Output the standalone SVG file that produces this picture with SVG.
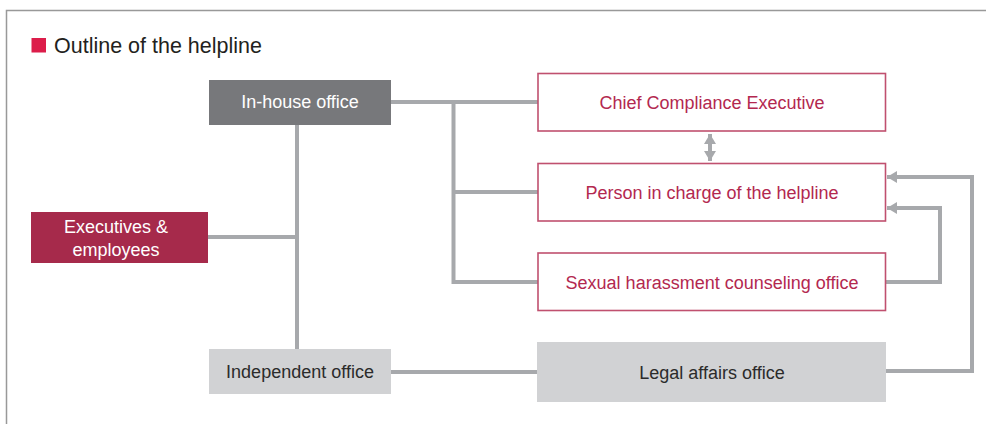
<svg xmlns="http://www.w3.org/2000/svg" width="986" height="424" viewBox="0 0 986 424">
<defs>
<style>
.t{font-family:"Liberation Sans",Arial,sans-serif;font-size:18px;text-anchor:middle;dominant-baseline:central}
.w{fill:#ffffff}
.r{fill:#b3284f}
.d{fill:#2b2b2b}
.ln{fill:none;stroke:#a7a9ac;stroke-width:4}
.ob{fill:#ffffff;stroke:#c0506f;stroke-width:1.6}
</style>
<marker id="ah" viewBox="0 0 10 12" refX="10" refY="6" markerWidth="10" markerHeight="12" markerUnits="userSpaceOnUse" orient="auto-start-reverse">
<path d="M0,0 L10,6 L0,12 Z" fill="#a7a9ac"/>
</marker>
</defs>
<rect width="986" height="424" fill="#ffffff"/>
<path d="M6.5,424 V10.5 H986" fill="none" stroke="#999999" stroke-width="1.5"/>
<g id="title">
<rect x="31.5" y="38" width="14.5" height="14.5" fill="#dc1d4a"/>
<text x="54" y="46" font-family="'Liberation Sans',Arial,sans-serif" font-size="21.5" fill="#231f20" dominant-baseline="central">Outline of the helpline</text>
</g>
<g id="connectors">
<path class="ln" d="M297,125 V349"/>
<path class="ln" d="M208,237 H297"/>
<path class="ln" d="M391,102 H538"/>
<path class="ln" d="M453.5,102 V282 H538"/>
<path class="ln" d="M453.5,192 H538"/>
<path class="ln" d="M391,372 H538"/>
<path class="ln" d="M886,282 H940 V208 H887" marker-end="url(#ah)"/>
<path class="ln" d="M886,371 H972 V177 H887" marker-end="url(#ah)"/>
<path class="ln" d="M710,134 V161" stroke-width="5" marker-start="url(#ah)" marker-end="url(#ah)"/>
</g>
<g id="inhouse">
<rect x="209" y="80" width="182" height="45" fill="#77787b"/>
<text class="t w" x="300" y="102">In-house office</text>
</g>
<g id="executives">
<rect x="31" y="212" width="177" height="51" fill="#a62a4b"/>
<text class="t w" x="116" y="227">Executives &amp;</text>
<text class="t w" x="116" y="250">employees</text>
</g>
<g id="independent">
<rect x="209" y="349" width="182" height="45" fill="#d1d2d4"/>
<text class="t d" x="300" y="372">Independent office</text>
</g>
<g id="chief">
<rect class="ob" x="538" y="73.5" width="347.5" height="57.5"/>
<text class="t r" x="712" y="103">Chief Compliance Executive</text>
</g>
<g id="person">
<rect class="ob" x="538" y="163.5" width="347.5" height="57.5"/>
<text class="t r" x="712" y="193">Person in charge of the helpline</text>
</g>
<g id="sexual">
<rect class="ob" x="538" y="253" width="347.5" height="57.5"/>
<text class="t r" x="712" y="283">Sexual harassment counseling office</text>
</g>
<g id="legal">
<rect x="537" y="342" width="349" height="60" fill="#d1d2d4"/>
<text class="t d" x="712" y="373">Legal affairs office</text>
</g>
</svg>
